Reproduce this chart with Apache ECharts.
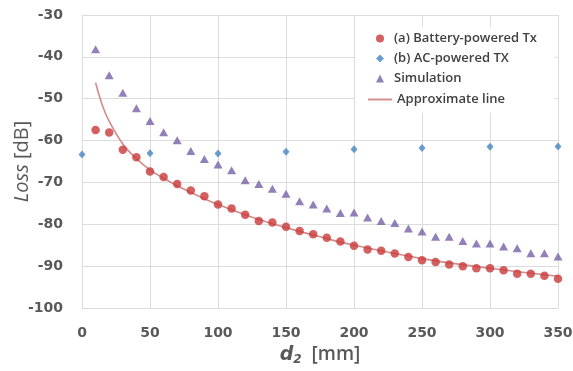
<!DOCTYPE html>
<html>
<head>
<meta charset="utf-8">
<script src="https://cdn.jsdelivr.net/npm/echarts@6/dist/echarts.min.js"></script>
<style>html,body{margin:0;padding:0;background:#fff;}#c{width:573px;height:371px;}</style>
</head>
<body>
<div id="c"></div>
<script>
// ---- data ----
var batteryX = [10,20,30,40,50,60,70,80,90,100,110,120,130,140,150,160,170,180,190,200,210,220,230,240,250,260,270,280,290,300,310,320,330,340,350];
var batteryY = [-57.5,-58.1,-62.2,-64.0,-67.4,-68.7,-70.4,-71.9,-73.3,-75.3,-76.2,-77.7,-79.2,-79.6,-80.6,-81.6,-82.4,-83.2,-84.1,-85.1,-86.0,-86.3,-87.0,-87.8,-88.6,-89.0,-89.6,-90.0,-90.5,-90.5,-91.0,-91.8,-91.8,-92.3,-93.0];
var acX = [0,50,100,150,200,250,300,350];
var acY = [-63.3,-63.0,-63.1,-62.7,-62.1,-61.8,-61.5,-61.4];
var simX = [10,20,30,40,50,60,70,80,90,100,110,120,130,140,150,160,170,180,190,200,210,220,230,240,250,260,270,280,290,300,310,320,330,340,350];
var simY = [-38.2,-44.4,-48.6,-52.3,-55.3,-58.0,-59.9,-62.5,-64.4,-65.7,-67.1,-69.5,-70.4,-71.5,-72.7,-74.5,-75.3,-76.2,-77.3,-77.2,-78.4,-79.2,-79.7,-81.0,-81.7,-83.0,-83.0,-84.0,-84.6,-84.6,-85.3,-85.7,-86.9,-86.9,-87.7];
var lineX = [10,15,20,30,40,50,60,70,80,100,125,150,175,200,250,300,350];
var lineY = [-46.2,-51.6,-55.4,-60.8,-64.3,-67.0,-69.0,-70.8,-72.4,-75.3,-78.3,-80.8,-83.0,-85.0,-88.2,-90.5,-92.4];
var seriesNames = ['(a) Battery-powered Tx','(b) AC-powered TX','Simulation','Approximate line'];
var xTicks = {min:0, max:350, interval:50};
var yTicks = {min:-100, max:-30, interval:10};

function pairs(xs, ys){ return xs.map(function(x,i){ return [x, ys[i]]; }); }

var chart = echarts.init(document.getElementById('c'), null, {renderer:'canvas'});
var gridColor = '#dcdcdc';
var labelColor = '#595959';
var legendText = {color:'#404040', fontFamily:'Open Sans', fontWeight:600, fontSize:13};
chart.setOption({
  animation:false,
  backgroundColor:'#ffffff',
  grid:{left:82, right:15, top:15, bottom:63, containLabel:false, outerBoundsMode:'none'},
  legend:[{
    orient:'vertical', left:355, top:27,
    padding:[5,18,28,21],
    backgroundColor:'#ffffff',
    itemWidth:8, itemHeight:8, itemGap:7,
    textStyle:Object.assign({padding:[0,0,0,5]}, legendText),
    data:[
      {name:seriesNames[0], icon:'circle'},
      {name:seriesNames[1], icon:'diamond'},
      {name:seriesNames[2], icon:'triangle'}
    ]
  },{
    orient:'vertical', left:363, top:88,
    itemWidth:24, itemHeight:2, z:5,
    textStyle:legendText,
    data:[{name:seriesNames[3], icon:'path://M0,0H25V2H0Z'}]
  }],
  xAxis:{
    type:'value', min:xTicks.min, max:xTicks.max, interval:xTicks.interval,
    axisLine:{show:true, lineStyle:{color:gridColor}},
    axisTick:{show:false},
    splitLine:{show:true, lineStyle:{color:gridColor, width:1}},
    axisLabel:{color:labelColor, fontFamily:'DejaVu Sans', fontWeight:'bold', fontSize:14, margin:18},
    name:'{i|d}{s|2}{n|  [mm]}', nameLocation:'middle', nameGap:36, nameMoveOverlap:false,
    nameTextStyle:{
      rich:{
        i:{fontFamily:'DejaVu Sans', fontStyle:'italic', fontWeight:'bold', fontSize:19, color:labelColor},
        s:{fontFamily:'DejaVu Sans', fontStyle:'italic', fontWeight:'bold', fontSize:12, color:labelColor, padding:[10,0,0,0]},
        n:{fontFamily:'Open Sans', fontWeight:600, fontSize:19, color:labelColor}
      }
    }
  },
  yAxis:{
    type:'value', min:yTicks.min, max:yTicks.max, interval:yTicks.interval,
    axisLine:{show:true, lineStyle:{color:gridColor}},
    axisTick:{show:false},
    splitLine:{show:true, lineStyle:{color:gridColor, width:1}},
    axisLabel:{color:labelColor, fontFamily:'DejaVu Sans', fontWeight:'bold', fontSize:14, margin:19},
    name:'{i|Loss}{n| [dB]}', nameLocation:'middle', nameGap:50, nameRotate:90, nameMoveOverlap:false,
    nameTextStyle:{
      rich:{
        i:{fontFamily:'Open Sans', fontStyle:'italic', fontSize:20, color:labelColor},
        n:{fontFamily:'Open Sans', fontSize:20, color:labelColor}
      }
    }
  },
  series:[
    {name:seriesNames[3], type:'line', data:pairs(lineX,lineY), smooth:0.4, symbol:'none',
     lineStyle:{color:'#d48a8a', width:1.6}, itemStyle:{color:'#d48a8a'}, z:1},
    {name:seriesNames[0], type:'scatter', data:pairs(batteryX,batteryY), symbol:'circle', symbolSize:8.5,
     itemStyle:{color:'#c93a3a'}, z:3},
    {name:seriesNames[1], type:'scatter', data:pairs(acX,acY), symbol:'diamond', symbolSize:[7,8],
     itemStyle:{color:'#4683c4'}, z:3},
    {name:seriesNames[2], type:'scatter', data:pairs(simX,simY), symbol:'triangle', symbolSize:[9,8],
     itemStyle:{color:'#7760a6'}, z:3}
  ]
});
</script>
</body>
</html>
